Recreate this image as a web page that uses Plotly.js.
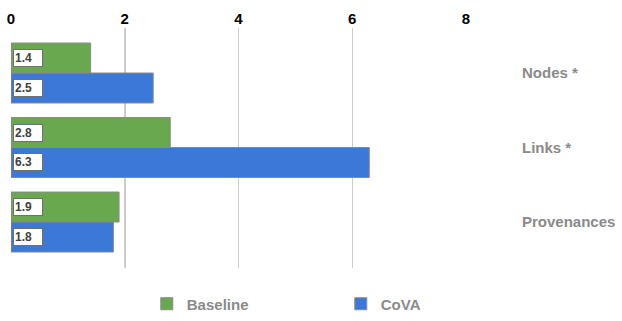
<!DOCTYPE html>
<html><head><meta charset="utf-8">
<script src="https://cdn.plot.ly/plotly-3.0.1.min.js"></script>
<style>html,body{margin:0;padding:0;background:#fff}#c{width:622px;height:321px}</style>
</head><body><div id="c"></div>
<script>
const categories = ["Nodes *", "Links *", "Provenances"];
const baseline = [1.4, 2.8, 1.9];
const cova = [2.5, 6.3, 1.8];
const seriesNames = ["Baseline", "CoVA"];
const xTicks = [0, 2, 4, 6, 8];

const FONT = "Liberation Sans, Arial, Helvetica, sans-serif";
const lineStyle = {color: "#8a8a8a", width: 1};

const traces = [
  {type: "bar", orientation: "h", name: seriesNames[0], y: categories, x: baseline,
   marker: {color: "#6aa84f", line: lineStyle}, hoverinfo: "none"},
  {type: "bar", orientation: "h", name: seriesNames[1], y: categories, x: cova,
   marker: {color: "#3c78d8", line: lineStyle}, hoverinfo: "none"}
];

const annotations = [];
[baseline, cova].forEach((vals, s) => {
  vals.forEach((v, i) => {
    annotations.push({
      xref: "x", yref: "y", x: 0, y: i + (s === 0 ? -0.2 : 0.2),
      xanchor: "left", yanchor: "middle", xshift: 2,
      text: v.toFixed(1), showarrow: false,
      font: {family: FONT, size: 12, color: "#404040", weight: "bold"},
      bgcolor: "#ffffff", bordercolor: "#707070", borderwidth: 1, borderpad: 1,
      width: 26, align: "left"
    });
  });
});

const layout = {
  width: 622, height: 321,
  margin: {l: 11, r: 156, t: 28, b: 53},
  paper_bgcolor: "#fff", plot_bgcolor: "#fff",
  barmode: "group", bargap: 0.195, bargroupgap: 0,
  showlegend: true,
  legend: {orientation: "h", xref: "container", yref: "container",
    x: 0.236, xanchor: "left", y: 0.053, yanchor: "middle",
    entrywidth: 149, entrywidthmode: "pixels", traceorder: "normal",
    font: {family: FONT, size: 15, color: "#8a8a8a", weight: "bold"}},
  xaxis: {side: "top", range: [0, 8], tickvals: xTicks, ticktext: xTicks.map(String),
    showgrid: true, gridcolor: "#cccccc", gridwidth: 1.5, zeroline: false,
    showline: false, ticks: "", fixedrange: true,
    tickfont: {family: FONT, size: 15, color: "#000", weight: "bold"}},
  yaxis: {type: "category", side: "right", range: [2.617, -0.604],
    showgrid: false, zeroline: false, showline: false,
    ticks: "outside", ticklen: 52, tickcolor: "rgba(0,0,0,0)",
    tickfont: {family: FONT, size: 15, color: "#8a8a8a", weight: "bold"}},
  annotations: annotations
};

Plotly.newPlot("c", traces, layout, {displayModeBar: false, staticPlot: true});
</script></body></html>
